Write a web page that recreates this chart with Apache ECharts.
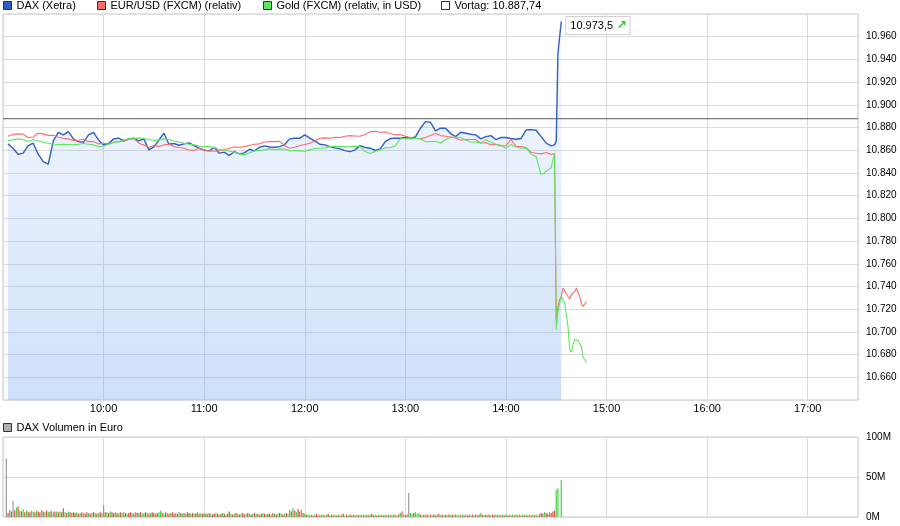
<!DOCTYPE html>
<html><head><meta charset="utf-8">
<script src="https://cdn.jsdelivr.net/npm/echarts@6/dist/echarts.min.js"></script>
<style>html,body{margin:0;padding:0;background:#fff}#c{width:900px;height:526px}</style>
</head><body><div id="c"></div>
<script>
// ---- data ----
const daxTimes = ["09:03","09:06","09:09","09:12","09:15","09:18","09:21","09:24","09:27","09:30",
"09:33","09:36","09:39","09:42","09:45","09:48","09:51","09:54","09:57","10:00",
"10:03","10:06","10:09","10:12","10:15","10:18","10:21","10:24",
"10:27","10:30","10:33","10:36","10:39","10:42","10:45","10:48","10:51","10:54",
"10:57","11:00","11:03","11:06","11:09","11:12","11:15","11:18","11:21","11:24",
"11:27","11:30","11:33","11:36","11:39","11:42","11:45","11:48",
"11:51","11:54","11:57","12:00","12:03","12:06","12:09","12:12","12:15","12:18",
"12:21","12:24","12:27","12:30","12:33","12:36","12:39","12:42","12:45","12:48",
"12:51","12:54","12:57","13:00","13:03","13:06","13:09",
"13:12","13:15","13:18","13:21","13:24","13:27","13:30","13:33","13:36","13:39",
"13:42","13:45","13:48","13:51","13:54","13:57","14:00","14:03","14:06","14:09",
"14:12","14:15","14:18","14:21","14:24","14:27",
"14:29","14:30"];
const dax = [10865.6,10861.8,10856.5,10857.4,10864.1,10866.2,10856.5,10850.0,10847.7,10868.2,
10875.8,10873.5,10876.4,10870.0,10867.6,10867.0,10873.5,10875.8,10869.1,10864.7,
10865.9,10870.0,10870.6,10868.2,10870.0,10870.6,10868.2,10870.0,
10860.3,10862.9,10869.1,10875.0,10865.3,10865.9,10864.4,10865.6,10866.5,10864.1,
10861.8,10860.0,10859.4,10862.6,10857.4,10858.3,10855.3,10858.8,10856.8,10857.7,
10860.9,10859.4,10862.6,10863.8,10862.9,10862.6,10863.2,10865.0,
10870.0,10870.6,10870.6,10873.5,10870.6,10868.2,10865.3,10864.7,10863.2,10862.1,
10861.2,10859.7,10858.8,10860.3,10864.1,10862.4,10861.8,10860.0,10861.2,10867.6,
10870.3,10870.6,10870.6,10871.2,10870.6,10871.7,10879.4,
10885.2,10884.6,10877.0,10879.4,10879.4,10874.7,10872.0,10875.8,10875.0,10874.1,
10873.5,10870.0,10872.0,10872.9,10869.4,10871.2,10871.2,10870.3,10869.7,10870.3,
10877.9,10878.2,10877.6,10872.0,10866.2,10863.8,
10864.7,10868.0];
const daxTailTimes = ["14:31","14:33"];
const daxTail = [10945.0,10973.5];

const eurusd = [10872.3,10874.1,10874.4,10874.1,10871.2,10871.7,10875.0,10874.4,10872.9,10873.2,
10871.4,10870.6,10870.0,10868.5,10868.8,10869.7,10867.6,10867.6,10865.6,10866.2,
10865.3,10867.0,10867.6,10867.9,10869.7,10870.3,10866.2,10864.7,
10862.4,10864.4,10863.2,10864.7,10865.3,10863.2,10862.4,10861.8,10860.0,10860.0,
10861.5,10860.3,10859.4,10859.1,10859.4,10860.6,10861.8,10862.9,10862.6,10863.2,
10864.1,10865.3,10865.6,10867.3,10867.6,10867.6,10867.9,10864.0,
10861.8,10862.6,10864.1,10865.0,10866.2,10868.2,10870.6,10870.9,10870.6,10871.4,
10871.2,10872.3,10872.9,10872.6,10872.3,10873.8,10876.4,10876.7,10875.8,10876.1,
10874.7,10873.5,10873.8,10872.3,10871.2,10870.3,10870.0,
10871.2,10872.9,10874.7,10872.9,10872.3,10871.7,10870.9,10868.8,10869.4,10869.4,
10869.4,10866.2,10866.8,10864.7,10865.0,10863.8,10864.1,10869.4,10863.5,10863.2,
10862.4,10858.2,10857.4,10856.8,10858.0,10856.2,
10857.4,10710.7];
const gold = [10868.5,10869.1,10870.0,10869.4,10867.6,10869.4,10868.2,10867.0,10866.2,10865.3,
10865.0,10865.3,10865.0,10864.7,10865.3,10865.9,10865.3,10864.7,10863.2,10863.5,
10865.3,10866.8,10867.6,10869.1,10870.0,10870.0,10870.9,10870.3,
10869.4,10868.5,10869.1,10870.0,10869.4,10868.2,10867.3,10866.2,10865.3,10864.7,
10863.5,10863.2,10863.2,10862.4,10860.6,10860.3,10859.1,10858.2,10856.8,10855.9,
10857.7,10859.4,10860.0,10860.3,10861.2,10860.6,10861.2,10861.0,
10859.4,10859.7,10859.4,10859.1,10860.3,10861.5,10861.8,10862.1,10863.2,10863.5,
10863.2,10863.2,10863.2,10863.5,10863.2,10858.8,10857.1,10859.1,10860.3,10862.1,
10862.4,10863.8,10870.0,10870.3,10870.0,10870.6,10870.0,
10867.6,10867.6,10867.9,10866.2,10869.7,10871.2,10871.7,10871.2,10868.8,10867.3,
10867.0,10866.5,10869.4,10867.0,10865.3,10864.4,10861.8,10865.0,10862.9,10861.8,
10861.8,10856.5,10854.4,10838.3,10841.2,10844.8,
10857.4,10702.0];
const fxTailTimes = ["14:31","14:32","14:33","14:34","14:35","14:36","14:37","14:38","14:39",
"14:40","14:41","14:42","14:43","14:44","14:45","14:46","14:47","14:48"];
const eurusdTail = [10722.4,10728.3,10731.2,10738.6,10736.5,10733.6,10731.2,10728.9,10732.7,
10734.2,10735.6,10738.6,10737.7,10731.2,10725.4,10722.4,10723.9,10726.8];
const goldTail = [10716.6,10725.4,10731.2,10729.8,10725.4,10715.1,10704.8,10684.3,10682.0,
10688.7,10693.1,10691.6,10692.5,10691.6,10687.2,10677.9,10675.5,10673.1];
const vortag = 10887.74;

// DAX volume in million euro, one bar per minute from 09:02
const volStart = "09:02";
const volume = [
73,5,9,7,20,8,12,13,8,7,10,6,8,7,6,8,7,6,8,7,6,9,7,6,8,6,7,8,6,7,
7,6,7,6,11,6,5,7,6,5,6,5,6,4,5,6,5,4,6,5,4,5,6,5,4,5,6,5,15,6,
6,5,7,6,5,6,5,4,6,5,6,5,4,5,6,5,4,6,5,5,6,4,5,6,5,4,5,6,5,4,
5,6,8,5,4,6,5,4,5,6,4,5,4,6,5,4,5,4,6,5,4,5,4,5,6,4,5,4,5,4,
4,5,4,3,4,5,4,3,4,5,4,3,4,7,4,3,4,5,4,3,4,5,3,4,5,4,3,4,5,4,
4,3,4,5,4,3,4,4,3,5,4,3,4,5,4,3,4,5,4,9,7,11,8,6,10,7,9,5,4,3,
3,2,3,2,3,4,2,3,2,3,2,3,4,2,3,2,3,2,3,2,3,4,2,3,2,3,2,3,2,3,
2,3,2,3,2,3,2,3,4,2,3,2,3,2,3,2,3,2,3,2,3,2,3,2,3,5,7,3,2,3,
30,5,4,5,6,4,5,3,2,3,2,3,2,3,2,3,2,3,4,2,3,2,3,2,3,2,3,2,3,2,
3,2,3,2,3,2,3,2,3,2,3,2,3,5,3,2,3,2,3,2,3,2,3,2,3,2,3,2,3,2,
3,2,3,2,3,2,3,2,3,2,3,2,3,2,3,2,3,2,4,5,4,6,5,4,6,5,7,8,34,36,
0,46];
// g = up (green), r = down (red), n = unchanged (grey)
const volDir = [
"nrgrnrgrgrgrgrrggrgrrgrgrgrggr","grgrrgrgrgrrgrgrgrrgrgrgrgrggr","grgrrgrgrggrgrrgrgrgrggrgrgrrg",
"rggrgrgrgrrgrgrgrgrrgrgrgrgrgr","grgrrgrgrgrgrrgrgrgrgrrgrgrgrg","rgrgrgrrgrgrgrgrgrggrgrgrrgrgr",
"grgrgrrgrgrgrgrrgrgrgrgrgrrgrg","rgrgrgrgrrgrgrgrgrgrgrggrgrgrr","nggrgggrgrgrgrgrrgrgrgrgrgrgrg",
"grgrgrrgrgrgrgrgrgrgrrgrgrgrgr","grgrgrgrgrgrgrgrgrgrrgrrgrrrgg","gg"].join("");

// ---- helpers ----
const toMin = s => { const p = s.split(':').map(Number); return (p[0] - 9) * 60 + p[1]; };
const pairs = (ts, vs) => ts.map((t, i) => [toMin(t), vs[i]]);
const fmtDE = (v, dec) => {
  const s = v.toFixed(dec); const parts = s.split('.');
  const i = parts[0].replace(/\B(?=(\d{3})+(?!\d))/g, '.');
  return parts[1] ? i + ',' + parts[1] : i;
};
const hhmm = m => { const h = 9 + Math.floor(m / 60), mm = m % 60; return (h < 10 ? '0' : '') + h + ':' + (mm < 10 ? '0' : '') + mm; };

const C_DAX = '#2f5fc4', C_EUR = '#ff6a6a', C_GOLD = '#5ee65e', C_VOR = '#5a5a5a';
const volColors = { g: '#46d246', r: '#e64848', n: '#9a9a9a' };
const FONT = 'Liberation Sans';

const volData = volume.map((v, i) => ({
  value: [toMin(volStart) + i, v],
  itemStyle: { color: volColors[volDir[i]] || volColors.g }
}));

const mkLegend = (name, left, top, color) => ({
  left, top, padding: 0, itemWidth: 8, itemHeight: 8, selectedMode: false,
  textStyle: { fontSize: 11, color: '#000', fontFamily: FONT },
  data: [{ name, icon: 'rect', itemStyle: { color, borderColor: '#333', borderWidth: 1 } }]
});

const vortagName = 'Vortag: ' + fmtDE(vortag, 2);

const chart = echarts.init(document.getElementById('c'), null, { renderer: 'canvas' });
chart.setOption({
  animation: false,
  backgroundColor: '#fff',
  legend: [
    mkLegend('DAX (Xetra)', 3, 0, C_DAX),
    mkLegend('EUR/USD (FXCM) (relativ)', 97, 0, C_EUR),
    mkLegend('Gold (FXCM) (relativ, in USD)', 263, 0, C_GOLD),
    mkLegend(vortagName, 441, 0, '#ffffff'),
    mkLegend('DAX Volumen in Euro', 3, 422, '#b0b0b0')
  ],
  grid: [
    { left: 3, right: 42, top: 14, height: 386, show: true, borderColor: '#c8c8c8', borderWidth: 1, backgroundColor: '#fff' },
    { left: 3, right: 42, top: 437, height: 80, show: true, borderColor: '#c8c8c8', borderWidth: 1, backgroundColor: '#fff' }
  ],
  xAxis: [
    { type: 'value', gridIndex: 0, min: 0, max: 510, interval: 60,
      axisLine: { show: false }, axisTick: { show: false },
      axisLabel: { formatter: hhmm, showMinLabel: false, showMaxLabel: false, fontSize: 11, color: '#000',
        margin: 3, fontFamily: "'Liberation Sans Narrow','Liberation Sans'" },
      splitLine: { show: true, lineStyle: { color: '#dcdcdc', width: 1 } } },
    { type: 'value', gridIndex: 1, min: 0, max: 510, interval: 60,
      axisLine: { show: false }, axisTick: { show: false }, axisLabel: { show: false },
      splitLine: { show: true, lineStyle: { color: '#dcdcdc', width: 1 } } }
  ],
  yAxis: [
    { type: 'value', gridIndex: 0, position: 'right', min: 10640, max: 10980, interval: 20,
      axisLine: { show: false }, axisTick: { show: false },
      axisLabel: { formatter: v => fmtDE(v, 0), showMinLabel: false, showMaxLabel: false,
        fontSize: 10, color: '#000', margin: 8, fontFamily: FONT },
      splitLine: { show: true, lineStyle: { color: '#dcdcdc', width: 1 } } },
    { type: 'value', gridIndex: 1, position: 'right', min: 0, max: 100, interval: 50,
      axisLine: { show: false }, axisTick: { show: false },
      axisLabel: { formatter: v => v + 'M', fontSize: 10, color: '#000', margin: 8, fontFamily: FONT },
      splitLine: { show: true, lineStyle: { color: '#dcdcdc', width: 1 } } }
  ],
  series: [
    { name: 'DAX (Xetra)', type: 'line', xAxisIndex: 0, yAxisIndex: 0, symbol: 'none',
      data: pairs(daxTimes.concat(daxTailTimes), dax.concat(daxTail)),
      lineStyle: { color: C_DAX, width: 1.4 }, itemStyle: { color: C_DAX },
      areaStyle: { origin: 'start', color: new echarts.graphic.LinearGradient(0, 0, 0, 1, [
        { offset: 0, color: 'rgba(100,155,240,0.08)' },
        { offset: 1, color: 'rgba(100,155,240,0.44)' }]) },
      endLabel: { show: true, distance: 5, offset: [0, 4],
        formatter: p => '{a|' + fmtDE(p.value[1], 1) + '} {b|↗}',
        backgroundColor: '#fff', borderColor: '#cfcfcf', borderWidth: 1, padding: [3, 3, 2, 4],
        rich: { a: { fontSize: 11, color: '#000', fontFamily: FONT },
                b: { fontSize: 12, color: '#22cc22', fontFamily: 'DejaVu Sans', fontWeight: 'bold' } } },
      z: 2 },
    { name: 'EUR/USD (FXCM) (relativ)', type: 'line', xAxisIndex: 0, yAxisIndex: 0, symbol: 'none',
      data: pairs(daxTimes.concat(fxTailTimes), eurusd.concat(eurusdTail)),
      lineStyle: { color: C_EUR, width: 1.1 }, itemStyle: { color: C_EUR }, z: 3 },
    { name: 'Gold (FXCM) (relativ, in USD)', type: 'line', xAxisIndex: 0, yAxisIndex: 0, symbol: 'none',
      data: pairs(daxTimes.concat(fxTailTimes), gold.concat(goldTail)),
      lineStyle: { color: C_GOLD, width: 1.1 }, itemStyle: { color: C_GOLD }, z: 3 },
    { name: vortagName, type: 'line', xAxisIndex: 0, yAxisIndex: 0, symbol: 'none', silent: true,
      data: [[0, vortag], [510, vortag]],
      lineStyle: { color: C_VOR, width: 1 }, itemStyle: { color: '#fff' }, z: 4 },
    { name: 'DAX Volumen in Euro', type: 'bar', xAxisIndex: 1, yAxisIndex: 1, barWidth: 1.2,
      data: volData, itemStyle: { color: '#b0b0b0' } }
  ]
});
</script>
</body></html>
